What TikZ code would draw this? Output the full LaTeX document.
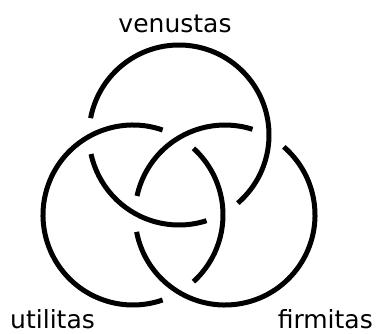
\documentclass[tikz,border=0pt]{standalone}
\usepackage{fontspec}
\setmainfont{DejaVu Sans}
\usepackage{tikz}

\begin{document}
\begin{tikzpicture}[x=1pt, y=1pt,
    ring/.style={line width=5pt, black},
    every node/.style={font=\fontsize{25}{30}\selectfont, inner sep=0pt}]
  \useasboundingbox (0,0) rectangle (377,333);
  % Centres
  \coordinate (top) at (179,198);
  \coordinate (left) at (133,118);
  \coordinate (right) at (225,118);
  % Top ring (under the left one)
  \draw[ring] ([shift={(192.2:90)}]top) arc[start angle=192.2, end angle=287.8, radius=90];
  \draw[ring] ([shift={(310.8:90)}]top) arc[start angle=310.8, end angle=529.2, radius=90];
  % Left ring (under the right one)
  \draw[ring] ([shift={(70.8:90)}]left) arc[start angle=70.8, end angle=289.2, radius=90];
  \draw[ring] ([shift={(312.2:90)}]left) arc[start angle=312.2, end angle=407.8, radius=90];
  % Right ring (under the top one)
  \draw[ring] ([shift={(72.2:90)}]right) arc[start angle=72.2, end angle=167.8, radius=90];
  \draw[ring] ([shift={(190.8:90)}]right) arc[start angle=190.8, end angle=409.2, radius=90];
  % Labels
  \node[anchor=base] (venustas) at (175,301) {venustas};
  \node[anchor=base west] (utilitas) at (10,5) {utilitas};
  \node[anchor=base east] (firmitas) at (373,5) {firmitas};
\end{tikzpicture}
\end{document}
